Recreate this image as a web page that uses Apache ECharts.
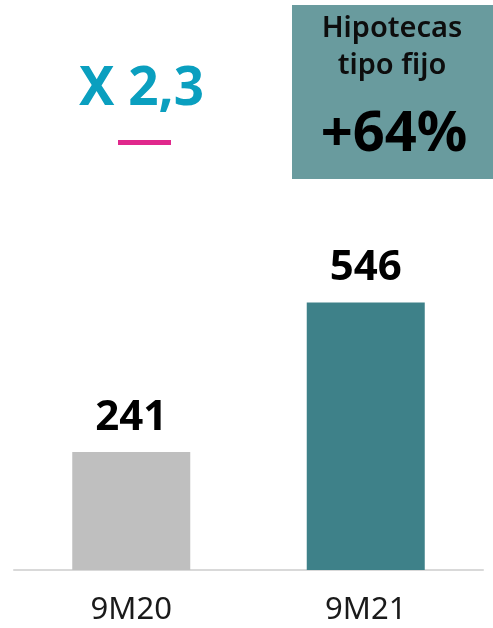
<!DOCTYPE html>
<html>
<head>
<meta charset="utf-8">
<script src="https://cdn.jsdelivr.net/npm/echarts@6/dist/echarts.min.js"></script>
<style>
  html, body { margin: 0; padding: 0; background: #fff; }
  #chart { width: 493px; height: 628px; }
</style>
</head>
<body>
<div id="chart"></div>
<script>
const categories = ['9M20', '9M21']
const values = [241, 546]
const barColors = ['#bfbfbf', '#3e8189']
const growthText = 'X 2,3'
const boxTitle = ['Hipotecas', 'tipo fijo']
const boxValue = '+64%'

const font = '"Noto Sans", sans-serif'
const chart = echarts.init(document.getElementById('chart'))

const option = {
  animation: false,
  grid: { left: 14, right: 10, top: 276, bottom: 58 },
  xAxis: {
    type: 'category',
    data: categories,
    axisLine: { lineStyle: { color: '#d9d9d9', width: 2 } },
    axisTick: { show: false },
    axisLabel: { color: '#1a1a1a', fontSize: 31, fontFamily: font, margin: 25 },
  },
  yAxis: {
    type: 'value',
    min: 0,
    max: 600,
    show: false,
  },
  series: [{
    type: 'bar',
    barWidth: 118,
    data: values.map((v, i) => ({ value: v, itemStyle: { color: barColors[i] } })),
    label: {
      show: true,
      position: 'top',
      distance: 13,
      color: '#000',
      fontSize: 42,
      fontWeight: 'bold',
      fontFamily: font,
    },
  }],
  graphic: [
    // growth multiplier and pink dash
    {
      type: 'text', left: 79, top: 63,
      style: { text: growthText, fill: '#0a9fbf', font: 'bold 53px ' + font },
    },
    {
      type: 'rect', shape: { x: 118, y: 140, width: 53, height: 5 },
      style: { fill: '#e0288c' },
    },
    // info box
    {
      type: 'rect', shape: { x: 292, y: 5, width: 201, height: 174 },
      style: { fill: '#699b9e' },
    },
    {
      type: 'text', x: 392, y: 10,
      style: {
        text: boxTitle.join('\n'), fill: '#0d0d0d', align: 'center',
        font: '600 29px ' + font, lineHeight: 37,
      },
    },
    {
      type: 'text', x: 394, y: 107,
      style: { text: boxValue, fill: '#000', align: 'center', font: 'bold 56px ' + font },
    },
  ],
}

chart.setOption(option)
</script>
</body>
</html>
